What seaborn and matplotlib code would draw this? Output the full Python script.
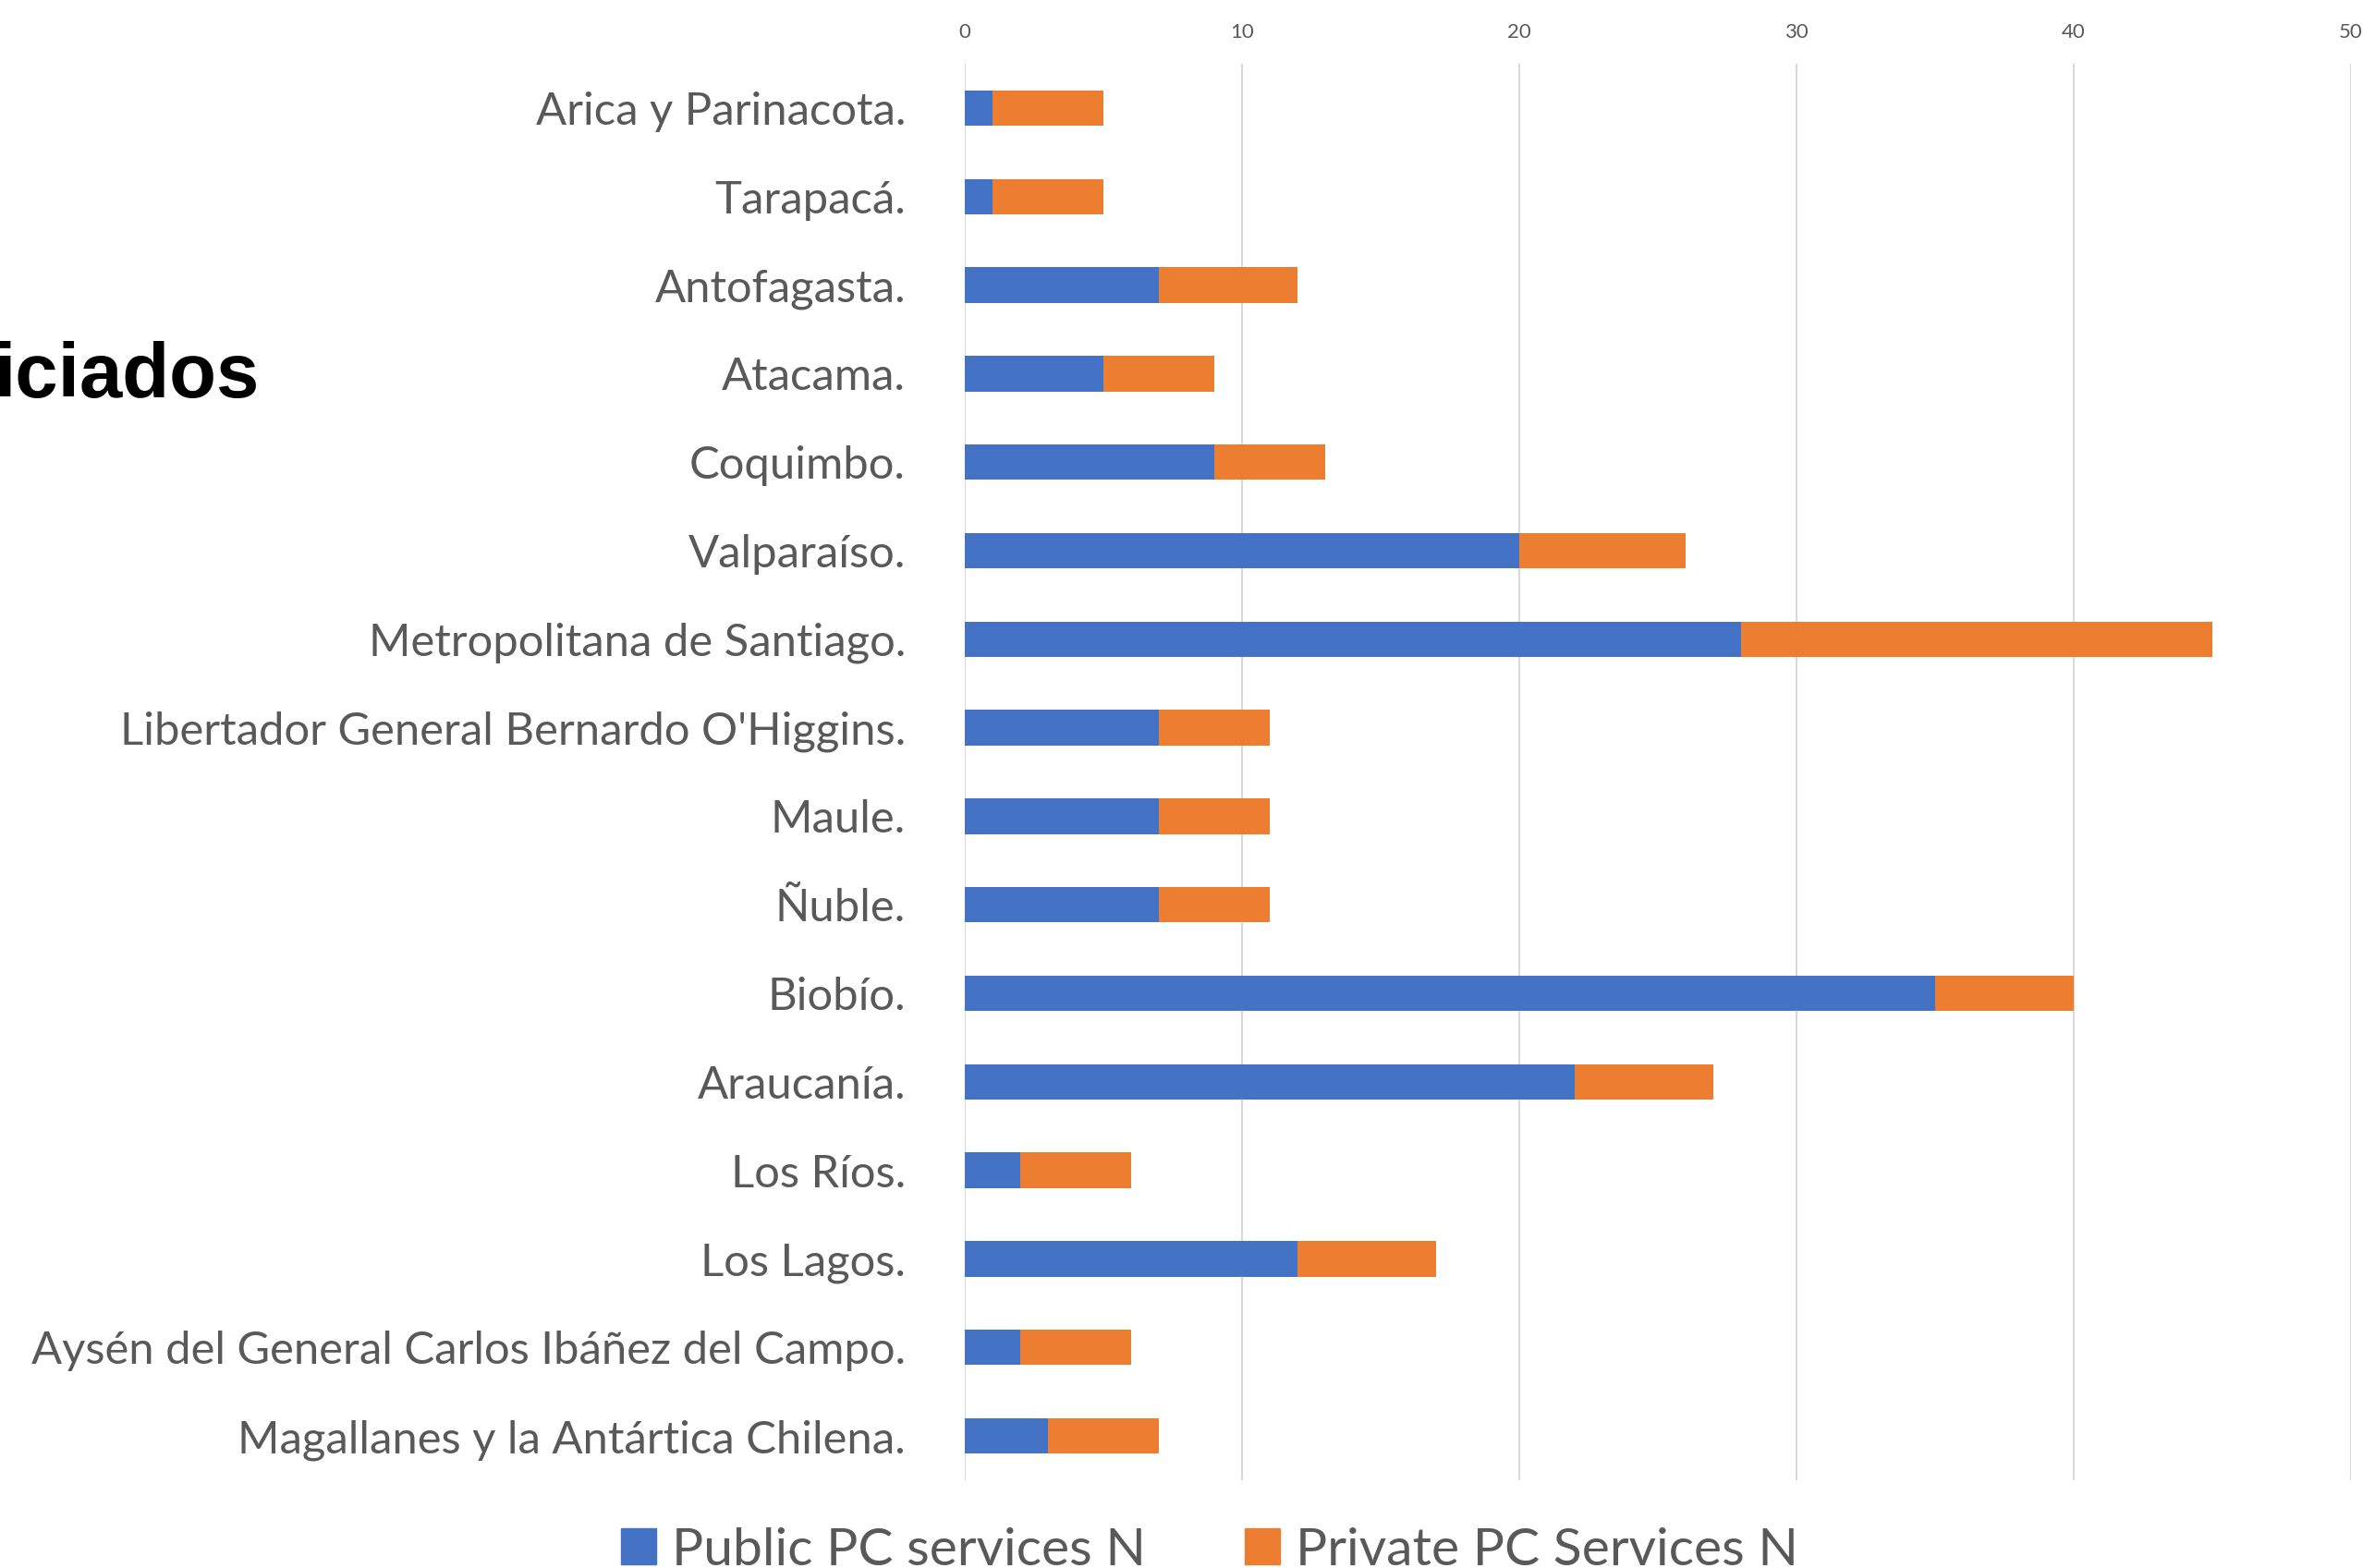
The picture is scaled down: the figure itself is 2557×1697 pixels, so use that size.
import pandas as pd
import matplotlib
matplotlib.use("Agg")
import matplotlib.pyplot as plt
from matplotlib.patches import Patch
import seaborn as sns

regions = [
    "Arica y Parinacota.", "Tarapacá.", "Antofagasta.", "Atacama.", "Coquimbo.",
    "Valparaíso.", "Metropolitana de Santiago.",
    "Libertador General Bernardo O'Higgins.", "Maule.", "Ñuble.", "Biobío.",
    "Araucanía.", "Los Ríos.", "Los Lagos.",
    "Aysén del General Carlos Ibáñez del Campo.",
    "Magallanes y la Antártica Chilena.",
]
public_n = [1, 1, 7, 5, 9, 20, 28, 7, 7, 7, 35, 22, 2, 12, 2, 3]
private_n = [4, 4, 5, 4, 4, 6, 17, 4, 4, 4, 5, 5, 4, 5, 4, 4]
x_ticks = [0, 10, 20, 30, 40, 50]

BLUE = "#4472C4"
ORANGE = "#ED7D31"
GREY = "#595959"

df = pd.DataFrame({"region": regions, "public": public_n, "private": private_n})
df["total"] = df["public"] + df["private"]

sns.set_style("white")
plt.rcParams["font.family"] = ["Lato", "DejaVu Sans"]

W, H = 2557, 1697
fig = plt.figure(figsize=(W / 100, H / 100), dpi=100)
ax = fig.add_axes([1044 / W, 1 - 1602 / H, (2544 - 1044) / W, (1602 - 69) / H])

# stacked bars: total first (orange), public on top of it (blue)
sns.barplot(data=df, y="region", x="total", color=ORANGE, width=0.4,
            orient="h", ax=ax, saturation=1, linewidth=0)
sns.barplot(data=df, y="region", x="public", color=BLUE, width=0.4,
            orient="h", ax=ax, saturation=1, linewidth=0)

ax.set_xlim(0, 50)
ax.set_xticks(x_ticks)
ax.xaxis.tick_top()
ax.set_xlabel("")
ax.set_ylabel("")
ax.grid(axis="x", color="#D9D9D9", linewidth=1.5)
ax.set_axisbelow(True)
for s in ax.spines.values():
    s.set_visible(False)
ax.tick_params(axis="x", length=0, pad=17, labelsize=16, labelcolor=GREY)
ax.tick_params(axis="y", length=0, pad=46, labelsize=35.3, labelcolor=GREY)

handles = [Patch(color=BLUE, label="Public PC services N"),
           Patch(color=ORANGE, label="Private PC Services N")]
fig.legend(handles=handles, loc="center", bbox_to_anchor=(0.512, 1 - 1678 / H),
           ncol=2, frameon=False, fontsize=41, labelcolor=GREY,
           handlelength=0.67, handleheight=0.67, handletextpad=0.3,
           columnspacing=1.87)

# cut-off slide title fragment on the left
fig.text(280 / W, 1 - 430 / H, "iciados", ha="right", va="baseline",
         fontsize=60, fontweight="bold", color="black",
         family=["Liberation Sans", "DejaVu Sans"])

fig.savefig("out.png", dpi=100)
